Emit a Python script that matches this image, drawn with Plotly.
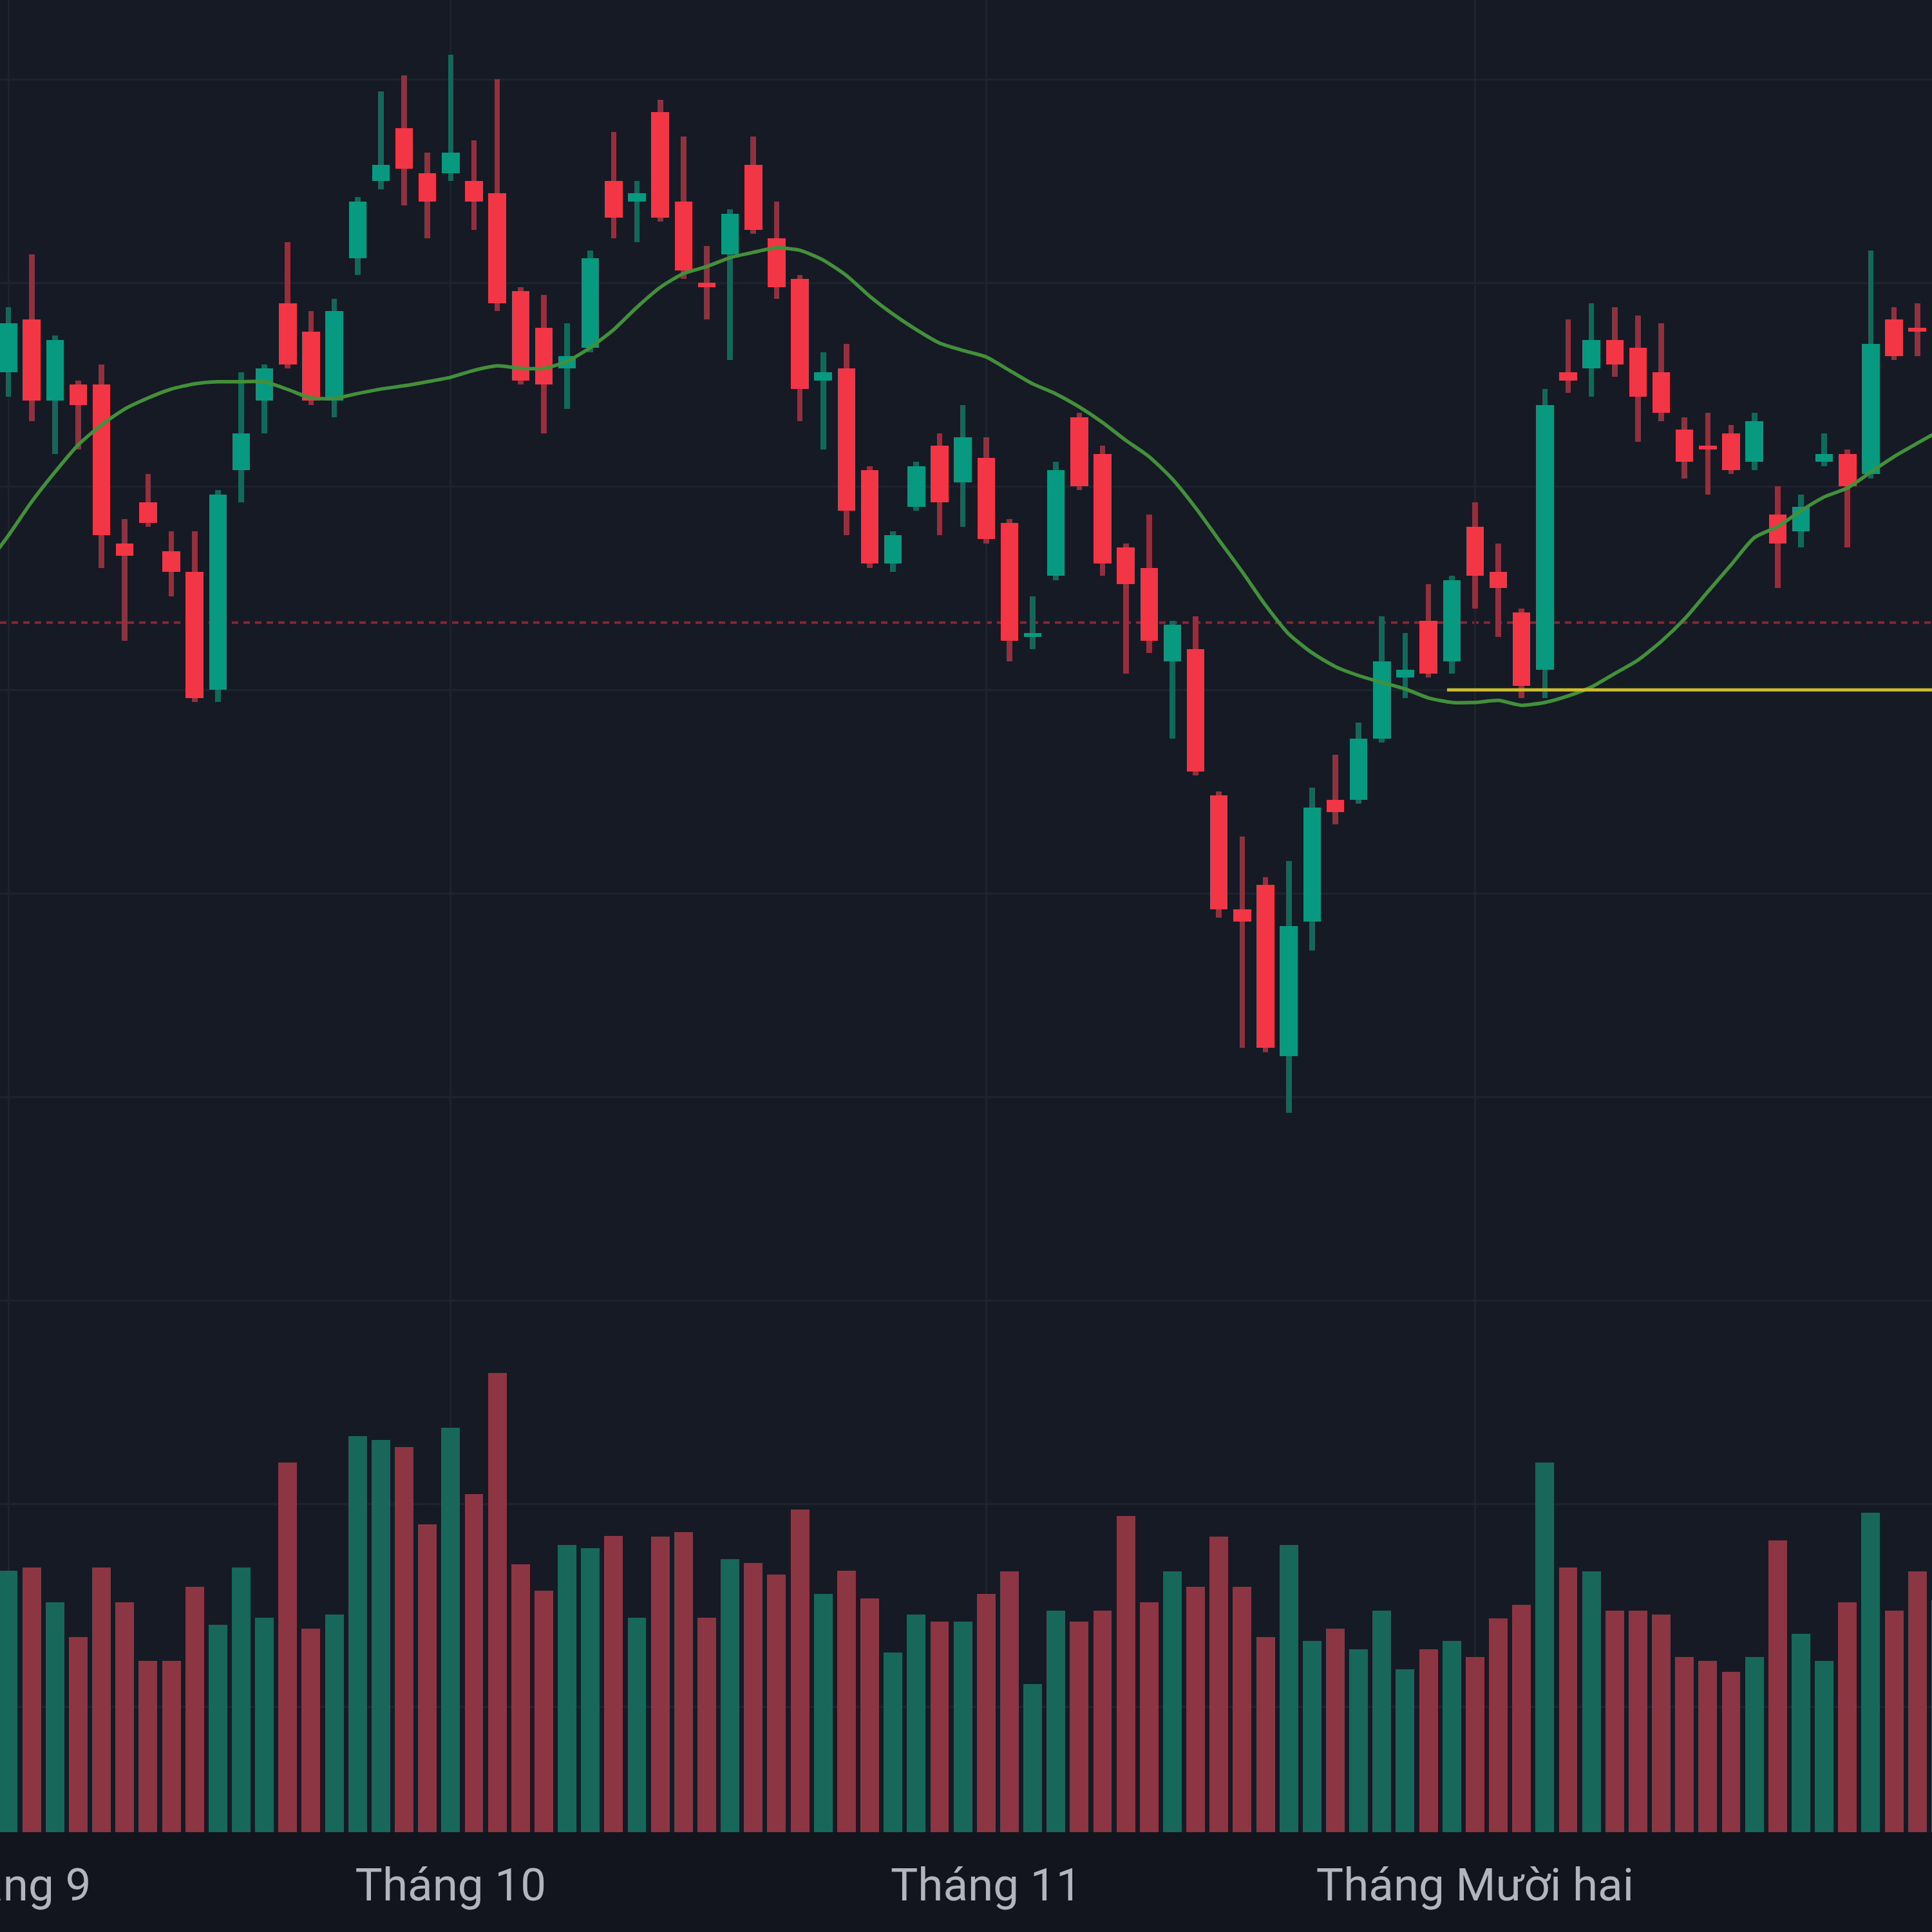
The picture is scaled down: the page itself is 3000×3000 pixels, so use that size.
import plotly.graph_objects as go
import pandas as pd

# ---------------- data ----------------
# trading sessions (Vietnamese market, 2024) -- index position is used on the x axis
dates = pd.bdate_range("2024-09-04", "2024-12-30").strftime("%Y-%m-%d").tolist()

open_ = [26.28, 26.41, 26.21, 26.25, 26.25, 25.86, 25.96, 25.84, 25.79, 25.50,
         26.04, 26.21, 26.45, 26.38, 26.21, 26.56, 26.75, 26.88, 26.77, 26.77,
         26.75, 26.72, 26.48, 26.39, 26.29, 26.34, 26.75, 26.70, 26.92, 26.70,
         26.50, 26.57, 26.79, 26.61, 26.51, 26.26, 26.29, 26.04, 25.81, 25.95,
         26.10, 26.01, 26.07, 25.91, 25.63, 25.78, 26.17, 26.08, 25.85, 25.80,
         25.57, 25.60, 25.24, 24.96, 25.02, 24.60, 24.93, 25.23, 25.23, 25.38,
         25.53, 25.67, 25.57, 25.90, 25.79, 25.69, 25.55, 26.28, 26.29, 26.36,
         26.34, 26.28, 26.14, 26.10, 26.13, 26.06, 25.93, 25.89, 26.06, 26.08,
         26.03, 26.41, 26.39, 26.35]
high = [26.44, 26.57, 26.37, 26.26, 26.30, 25.92, 26.03, 25.89, 25.89, 25.99,
        26.28, 26.30, 26.60, 26.43, 26.46, 26.71, 26.97, 27.01, 26.82, 27.06,
        26.85, 27.00, 26.49, 26.47, 26.40, 26.58, 26.87, 26.75, 26.95, 26.86,
        26.59, 26.68, 26.86, 26.70, 26.52, 26.33, 26.35, 26.05, 25.89, 26.06,
        26.13, 26.20, 26.12, 25.92, 25.73, 26.06, 26.18, 26.10, 25.86, 25.93,
        25.67, 25.68, 25.25, 25.14, 25.04, 25.08, 25.26, 25.34, 25.42, 25.68,
        25.64, 25.76, 25.78, 25.96, 25.86, 25.70, 26.24, 26.41, 26.45, 26.44,
        26.42, 26.40, 26.17, 26.18, 26.15, 26.18, 26.00, 25.98, 26.13, 26.09,
        26.58, 26.44, 26.45, 26.40]
low = [26.22, 26.16, 26.08, 26.09, 25.80, 25.62, 25.90, 25.73, 25.47, 25.47,
       25.96, 26.13, 26.29, 26.20, 26.17, 26.52, 26.73, 26.69, 26.61, 26.75,
       26.63, 26.43, 26.25, 26.13, 26.19, 26.33, 26.61, 26.60, 26.65, 26.51,
       26.41, 26.31, 26.62, 26.46, 26.16, 26.09, 25.88, 25.80, 25.79, 25.94,
       25.88, 25.90, 25.86, 25.57, 25.60, 25.77, 25.99, 25.78, 25.54, 25.59,
       25.38, 25.29, 24.94, 24.62, 24.61, 24.46, 24.86, 25.17, 25.22, 25.37,
       25.48, 25.53, 25.54, 25.70, 25.63, 25.48, 25.48, 26.23, 26.22, 26.27,
       26.11, 26.16, 26.02, 25.98, 26.03, 26.04, 25.75, 25.85, 26.05, 25.85,
       26.02, 26.31, 26.32, 26.28]
close = [26.40, 26.21, 26.36, 26.20, 25.88, 25.83, 25.91, 25.79, 25.48, 25.98,
         26.13, 26.29, 26.30, 26.21, 26.43, 26.70, 26.79, 26.78, 26.70, 26.82,
         26.70, 26.45, 26.26, 26.25, 26.32, 26.56, 26.66, 26.72, 26.66, 26.53,
         26.49, 26.67, 26.63, 26.49, 26.24, 26.28, 25.94, 25.81, 25.88, 26.05,
         25.96, 26.12, 25.87, 25.62, 25.64, 26.04, 26.00, 25.81, 25.76, 25.62,
         25.66, 25.30, 24.96, 24.93, 24.62, 24.92, 25.21, 25.20, 25.38, 25.57,
         25.55, 25.54, 25.77, 25.78, 25.75, 25.51, 26.20, 26.26, 26.36, 26.30,
         26.22, 26.18, 26.06, 26.09, 26.04, 26.16, 25.86, 25.95, 26.08, 26.00,
         26.35, 26.32, 26.38, 26.31]
volume_m = [4.06, 4.11, 3.57, 3.03, 4.11, 3.57, 2.66, 2.66, 3.81, 3.22,
            4.11, 3.33, 5.74, 3.16, 3.38, 6.15, 6.09, 5.98, 4.78, 6.28,
            5.25, 7.13, 4.16, 3.75, 4.46, 4.41, 4.60, 3.33, 4.59, 4.66,
            3.33, 4.24, 4.18, 4.00, 5.01, 3.70, 4.06, 3.63, 2.79, 3.38,
            3.27, 3.27, 3.70, 4.05, 2.30, 3.44, 3.27, 3.44, 4.91, 3.57,
            4.05, 3.81, 4.59, 3.81, 3.03, 4.46, 2.97, 3.16, 2.84, 3.44,
            2.53, 2.84, 2.97, 2.72, 3.32, 3.53, 5.74, 4.11, 4.05, 3.44,
            3.44, 3.38, 2.72, 2.66, 2.49, 2.72, 4.53, 3.08, 2.66, 3.57,
            4.96, 3.44, 4.05, 3.60]
# moving average, first value belongs to the session before the first visible candle
ma_line = [25.803, 25.879, 25.962, 26.035, 26.102, 26.151, 26.190, 26.217, 26.239, 26.252,
           26.257, 26.257, 26.257, 26.238, 26.217, 26.216, 26.228, 26.239, 26.247, 26.257,
           26.268, 26.285, 26.296, 26.290, 26.290, 26.307, 26.341, 26.385, 26.440, 26.489,
           26.523, 26.540, 26.562, 26.575, 26.586, 26.580, 26.556, 26.518, 26.467, 26.423,
           26.385, 26.352, 26.334, 26.318, 26.285, 26.252, 26.227, 26.195, 26.157, 26.113,
           26.073, 26.018, 25.947, 25.868, 25.790, 25.708, 25.637, 25.591, 25.557, 25.535,
           25.518, 25.502, 25.480, 25.469, 25.469, 25.474, 25.462, 25.469, 25.485, 25.507,
           25.540, 25.573, 25.619, 25.674, 25.741, 25.807, 25.874, 25.901, 25.940, 25.974,
           25.996, 26.035, 26.073, 26.106, 26.138]

month_labels = ["Tháng 9", "Tháng 10", "Tháng 11", "Tháng Mười hai"]
ref_level = 25.665        # red dotted horizontal line
support_level = 25.50     # yellow horizontal ray
support_start = 61.8      # session position where the ray starts

# ---------------- derived ----------------
n = len(dates)
xi = list(range(n))
ma_x = list(range(-1, n))
months = [d[:7] for d in dates]
tick_pos = [i for i in range(n) if i == 0 or months[i] != months[i - 1]]

UP, DOWN = "#089981", "#f23645"
UP_WICK, DOWN_WICK = "#12695b", "#93303d"
UP_VOL, DOWN_VOL = "#17675b", "#8c3543"

up = [c >= o for o, c in zip(open_, close)]
body_base = [min(o, c) for o, c in zip(open_, close)]
body_h = [max(abs(c - o), 0.006) for o, c in zip(open_, close)]
wick_h = [h - l for h, l in zip(high, low)]

fig = go.Figure()

# volume (overlay scale)
fig.add_trace(go.Bar(
    x=xi, y=volume_m, yaxis="y2", width=0.8,
    marker=dict(color=[UP_VOL if u else DOWN_VOL for u in up], line=dict(width=0)),
    hoverinfo="skip"))

# wicks
fig.add_trace(go.Bar(
    x=xi, y=wick_h, base=low, width=0.24,
    marker=dict(color=[UP_WICK if u else DOWN_WICK for u in up], line=dict(width=0)),
    hoverinfo="skip"))

# bodies
fig.add_trace(go.Bar(
    x=xi, y=body_h, base=body_base, width=0.76,
    marker=dict(color=[UP if u else DOWN for u in up], line=dict(width=0)),
    customdata=dates, hoverinfo="skip"))

# moving average
fig.add_trace(go.Scatter(
    x=ma_x, y=ma_line, mode="lines",
    line=dict(color="#43903b", width=5.5, shape="spline", smoothing=0.6),
    hoverinfo="skip"))

fig.add_shape(type="line", xref="paper", x0=0, x1=1, yref="y",
              y0=ref_level, y1=ref_level, layer="below",
              line=dict(color="rgba(242,54,69,0.5)", width=4, dash="10px,8px"))
fig.add_shape(type="line", xref="x", x0=support_start, x1=n + 1, yref="y",
              y0=support_level, y1=support_level, layer="above",
              line=dict(color="#cbbd2e", width=5))

fig.update_layout(
    template="none",
    width=3000, height=3000,
    margin=dict(l=0, r=0, t=0, b=155, pad=0),
    paper_bgcolor="#12151e",
    plot_bgcolor="#161a25",
    barmode="overlay",
    bargap=0,
    showlegend=False,
    hovermode=False,
    xaxis=dict(
        range=[-0.36, 82.63], automargin=False,
        tickmode="array", tickvals=tick_pos, ticktext=month_labels,
        ticklabeloverflow="allow",
        showgrid=True, gridcolor="#1f2330", gridwidth=3,
        zeroline=False, showline=False,
        ticks="outside", ticklen=20, tickcolor="rgba(0,0,0,0)",
        tickfont=dict(family="Roboto", size=71, color="#b2b5be"),
    ),
    yaxis=dict(
        range=[22.693, 27.195], automargin=False,
        tick0=0, dtick=0.5, showticklabels=False,
        showgrid=True, gridcolor="#1f2330", gridwidth=3,
        zeroline=False, showline=False, ticks="",
    ),
    yaxis2=dict(
        overlaying="y", range=[0, 28.45], automargin=False,
        showgrid=False, showticklabels=False, zeroline=False,
        showline=False, ticks="",
    ),
)

fig.write_html("out.html")
